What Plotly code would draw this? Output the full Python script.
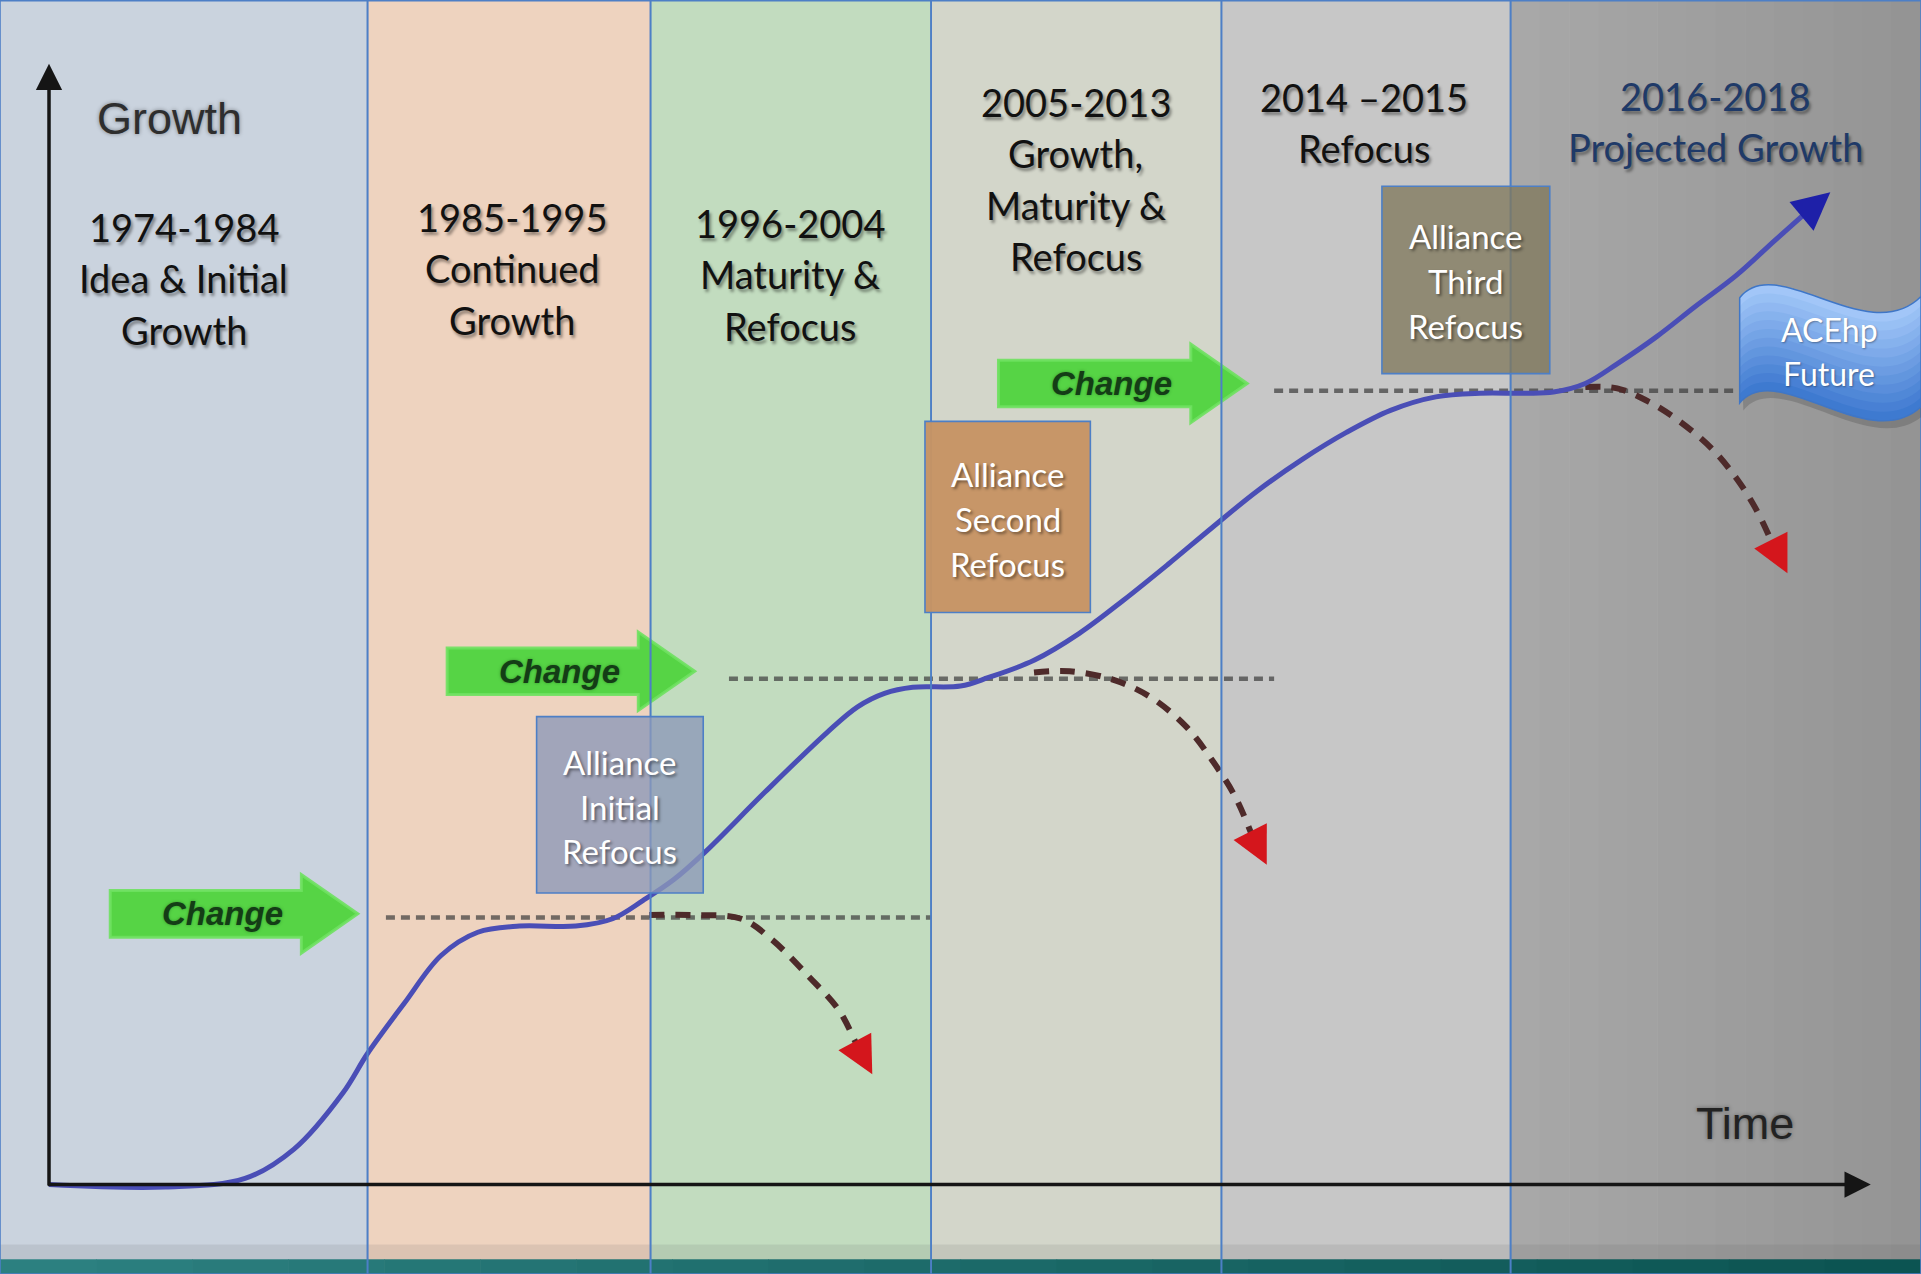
import plotly.graph_objects as go

# ---------------- data (reference coordinate space: 1568 x 1040, y downward) ----------------
panel_edges = [0, 300, 531, 760, 997, 1233, 1568]
panel_colors = ["#cad3de", "#eed3bf", "#c2dcbf", "#d3d6ca", "#c7c7c7", "#9e9e9e"]

heading_lines = [
    ["1974-1984", "Idea & Initial", "Growth"],
    ["1985-1995", "Continued", "Growth"],
    ["1996-2004", "Maturity &", "Refocus"],
    ["2005-2013", "Growth,", "Maturity &", "Refocus"],
    ["2014 \u20132015", "Refocus"],
    ["2016-2018", "Projected Growth"],
]
heading_x = [150, 418, 645, 878, 1113, 1400]
heading_y0 = [185, 177, 182, 83, 79, 78]
heading_colors = ["#111111", "#111111", "#111111", "#111111", "#111111", "#1f3a68"]

# main growth (S-)curve
curve_x = [40, 135, 200, 240, 280, 300, 330, 360, 390, 424, 470, 500, 525, 550, 575, 624, 675,
           700, 722, 745, 784, 807, 844, 881, 917, 953, 989, 1026, 1063, 1099, 1135, 1172, 1208,
           1245, 1268, 1294, 1320, 1352, 1384, 1417, 1449, 1476]
curve_y = [967, 969, 962, 938, 892, 860, 819, 780, 761, 756, 756, 750, 735, 718, 696, 647, 598,
           577, 566, 561, 560, 553, 539, 517, 490, 461, 431, 401, 375, 353, 335, 324, 321,
           321, 320, 313, 297, 275, 250, 225, 196, 172]
curve_tip = (1494, 157)

# plateau (dashed) lines
plateau_x = [[315, 760], [595, 1040], [1040, 1420]]
plateau_y = [749, 554, 319]

# decline (red dashed) curves
decline_x = [[530, 565, 605, 630, 660, 685, 698, 704],
             [844, 873, 909, 939, 968, 989, 1008, 1022],
             [1294, 1320, 1346, 1371, 1397, 1417, 1433, 1446]]
decline_y = [[747, 747, 750, 767, 797, 825, 850, 862],
             [549, 548, 555, 569, 593, 620, 650, 682],
             [316, 317, 328, 344, 366, 390, 415, 442]]
decline_tip = [(712, 877), (1034, 706), (1459, 468)]

# "Change" arrows
change_x0 = [90, 365, 815]
change_x1 = [292, 567, 1018]
change_yc = [746, 548, 313]
change_label = ["Change", "Change", "Change"]

# Alliance boxes
box_labels = [["Alliance", "Initial", "Refocus"],
              ["Alliance", "Second", "Refocus"],
              ["Alliance", "Third", "Refocus"]]
box_x0 = [438, 755, 1128]
box_x1 = [574, 890, 1265]
box_y0 = [585, 344, 152]
box_y1 = [729, 500, 305]
box_text_y0 = [622, 387, 193]
box_fill = ["rgba(140,152,185,0.78)", "rgba(198,148,100,0.97)", "rgba(128,120,92,0.78)"]

# ---------------- figure ----------------
fig = go.Figure()
shapes = []
annotations = []

# panels
for i in range(6):
    x0, x1 = panel_edges[i], panel_edges[i + 1]
    if i == 5:
        n = 14
        for k in range(n):
            c0, c1 = 168, 148
            v = int(round(c0 + (c1 - c0) * k / (n - 1)))
            shapes.append(dict(type="rect", xref="x", yref="y", layer="below",
                               x0=x0 + (x1 - x0) * k / n, x1=x0 + (x1 - x0) * (k + 1) / n + 0.5,
                               y0=0, y1=1040, fillcolor=f"rgb({v},{v},{v})", line=dict(width=0)))
    else:
        shapes.append(dict(type="rect", xref="x", yref="y", layer="below",
                           x0=x0, x1=x1, y0=0, y1=1040,
                           fillcolor=panel_colors[i], line=dict(width=0)))

# bottom bands
shapes.append(dict(type="rect", xref="x", yref="y", layer="below", x0=0, x1=1568, y0=1016, y1=1028,
                   fillcolor="rgba(90,90,90,0.13)", line=dict(width=0)))
n = 20
for k in range(n):
    r = int(round(44 + (12 - 44) * k / (n - 1)))
    g = int(round(128 + (84 - 128) * k / (n - 1)))
    b = int(round(128 + (82 - 128) * k / (n - 1)))
    shapes.append(dict(type="rect", xref="x", yref="y", layer="below",
                       x0=1568 * k / n, x1=1568 * (k + 1) / n + 0.5, y0=1028, y1=1041,
                       fillcolor=f"rgb({r},{g},{b})", line=dict(width=0)))

# Change arrows (below traces)
for i in range(3):
    x0, x1, yc = change_x0[i], change_x1[i], change_yc[i]
    hx = x1 - 46
    path = (f"M {x0},{yc-19} L {hx},{yc-19} L {hx},{yc-32} L {x1},{yc} "
            f"L {hx},{yc+32} L {hx},{yc+19} L {x0},{yc+19} Z")
    shapes.append(dict(type="path", xref="x", yref="y", layer="below", path=path,
                       fillcolor="#56d445", line=dict(color="rgba(110,225,95,0.9)", width=3)))
    annotations.append(dict(x=(x0 + hx) / 2 + 14, y=yc, xref="x", yref="y", text=change_label[i],
                            showarrow=False, xanchor="center", yanchor="middle",
                            font=dict(family="Liberation Sans", size=33, color="#143d16",
                                      weight="bold", style="italic",
                                      shadow="0px 0px 3px rgba(20,80,20,0.5)")))

# panel borders (above traces)
for i in range(6):
    shapes.append(dict(type="rect", xref="x", yref="y", layer="above",
                       x0=panel_edges[i], x1=panel_edges[i + 1], y0=0.6, y1=1040,
                       fillcolor="rgba(0,0,0,0)", line=dict(color="#4d7fc6", width=1.6)))

# Alliance boxes
for i in range(3):
    shapes.append(dict(type="rect", xref="x", yref="y", layer="above",
                       x0=box_x0[i], x1=box_x1[i], y0=box_y0[i], y1=box_y1[i],
                       fillcolor=box_fill[i], line=dict(color="#4d7fc6", width=1.6)))
    cx = (box_x0[i] + box_x1[i]) / 2
    for j, line in enumerate(box_labels[i]):
        annotations.append(dict(x=cx, y=box_text_y0[i] + 36.5 * j, xref="x", yref="y", text=line,
                                showarrow=False, xanchor="center", yanchor="middle",
                                font=dict(family="Lato", size=33, color="#ffffff",
                                          shadow="2px 2px 3px rgba(0,0,0,0.45)")))

# ACEhp Future wave banner (vertical gradient emulated with stacked bands)
top_pts = [(1420, 243), (1450, 205), (1525, 285), (1568, 242)]
bot_pts = [(1420, 329), (1450, 292), (1525, 372), (1568, 332)]
shapes.append(dict(type="path", xref="x", yref="y", layer="above",
                   path=("M {},{} C {},{} {},{} {},{} ".format(*[c for p in top_pts for c in (p[0], p[1] + 5)])
                         + "L {},{} C {},{} {},{} {},{} Z".format(
                             *[c for p in reversed(bot_pts) for c in (p[0] + 3, p[1] + 6)])),
                   fillcolor="rgba(60,60,60,0.25)", line=dict(width=0)))
nb = 12
for k in range(nb, 0, -1):
    f = k / nb
    mid = [(t[0], t[1] + f * (b[1] - t[1])) for t, b in zip(top_pts, bot_pts)]
    c_top = (166, 202, 250)
    c_bot = (58, 118, 206)
    col = tuple(int(round(c_top[m] + (c_bot[m] - c_top[m]) * (f - 0.5 / nb))) for m in range(3))
    p = "M {},{} C {},{} {},{} {},{} ".format(*[c for q in top_pts for c in q])
    p += "L {},{} C {},{} {},{} {},{} Z".format(*[c for q in reversed(mid) for c in q])
    shapes.append(dict(type="path", xref="x", yref="y", layer="above", path=p,
                       fillcolor=f"rgb{col}", line=dict(width=0)))
outline = "M {},{} C {},{} {},{} {},{} ".format(*[c for q in top_pts for c in q])
outline += "L {},{} C {},{} {},{} {},{} Z".format(*[c for q in reversed(bot_pts) for c in q])
shapes.append(dict(type="path", xref="x", yref="y", layer="above", path=outline,
                   fillcolor="rgba(0,0,0,0)", line=dict(color="#3f76c6", width=1.5)))
for j, line in enumerate(["ACEhp", "Future"]):
    annotations.append(dict(x=1493, y=269 + 36 * j, xref="x", yref="y", text=line, showarrow=False,
                            xanchor="center", yanchor="middle",
                            font=dict(family="Lato", size=32, color="#ffffff",
                                      shadow="1px 1px 2px rgba(0,0,0,0.35)")))

# traces: plateau lines
for xs, yv in zip(plateau_x, plateau_y):
    fig.add_trace(go.Scatter(x=xs, y=[yv, yv], mode="lines", hoverinfo="skip",
                             line=dict(color="rgba(60,60,60,0.7)", width=4.5, dash="9px,6px")))

# decline curves
for xs, ys in zip(decline_x, decline_y):
    fig.add_trace(go.Scatter(x=xs, y=ys, mode="lines", hoverinfo="skip", line_shape="spline",
                             line=dict(color="#4e2a2a", width=6, dash="15px,11px")))

# growth curve
fig.add_trace(go.Scatter(x=curve_x, y=curve_y, mode="lines", hoverinfo="skip", line_shape="spline",
                         line=dict(color="#4a4eb6", width=5)))

# arrowheads
annotations.append(dict(x=curve_tip[0], y=curve_tip[1], ax=curve_x[-1], ay=curve_y[-1],
                        xref="x", yref="y", axref="x", ayref="y", text="", showarrow=True,
                        arrowhead=2, arrowsize=1.5, arrowwidth=5, arrowcolor="#1e20a8"))
for i in range(3):
    annotations.append(dict(x=decline_tip[i][0], y=decline_tip[i][1],
                            ax=decline_x[i][-1], ay=decline_y[i][-1],
                            xref="x", yref="y", axref="x", ayref="y", text="", showarrow=True,
                            arrowhead=2, arrowsize=1.35, arrowwidth=5.5, arrowcolor="#d4161c"))

# axes arrows
annotations.append(dict(x=40, y=52, ax=40, ay=969, xref="x", yref="y", axref="x", ayref="y",
                        text="", showarrow=True, arrowhead=2, arrowsize=1.5, arrowwidth=3.5,
                        arrowcolor="#151515"))
annotations.append(dict(x=1527, y=967, ax=38, ay=967, xref="x", yref="y", axref="x", ayref="y",
                        text="", showarrow=True, arrowhead=2, arrowsize=1.5, arrowwidth=3.5,
                        arrowcolor="#151515"))
annotations.append(dict(x=138, y=97, xref="x", yref="y", text="Growth", showarrow=False,
                        xanchor="center", yanchor="middle",
                        font=dict(family="Liberation Sans", size=45, color="#2e2e2e",
                                  shadow="0px 0px 4px rgba(0,0,0,0.4)")))
annotations.append(dict(x=1424, y=917, xref="x", yref="y", text="Time", showarrow=False,
                        xanchor="center", yanchor="middle",
                        font=dict(family="Liberation Sans", size=45, color="#222222",
                                  shadow="0px 0px 4px rgba(0,0,0,0.4)")))

# headings
for i, lines in enumerate(heading_lines):
    for j, line in enumerate(lines):
        annotations.append(dict(x=heading_x[i], y=heading_y0[i] + 42 * j, xref="x", yref="y",
                                text=line, showarrow=False, xanchor="center", yanchor="middle",
                                font=dict(family="Lato", size=38, color=heading_colors[i],
                                          shadow="2px 3px 3px rgba(0,0,0,0.4)")))

fig.update_layout(
    width=1921, height=1274,
    margin=dict(l=0, r=0, t=0, b=0),
    paper_bgcolor="#ffffff", plot_bgcolor="rgba(0,0,0,0)",
    showlegend=False,
    xaxis=dict(range=[0, 1568], visible=False, fixedrange=True),
    yaxis=dict(range=[1040, 0], visible=False, fixedrange=True),
    shapes=shapes, annotations=annotations,
)

fig.write_html("out.html", config={"displayModeBar": False},
               post_script="document.body.style.margin='0';document.body.style.overflow='hidden';")
